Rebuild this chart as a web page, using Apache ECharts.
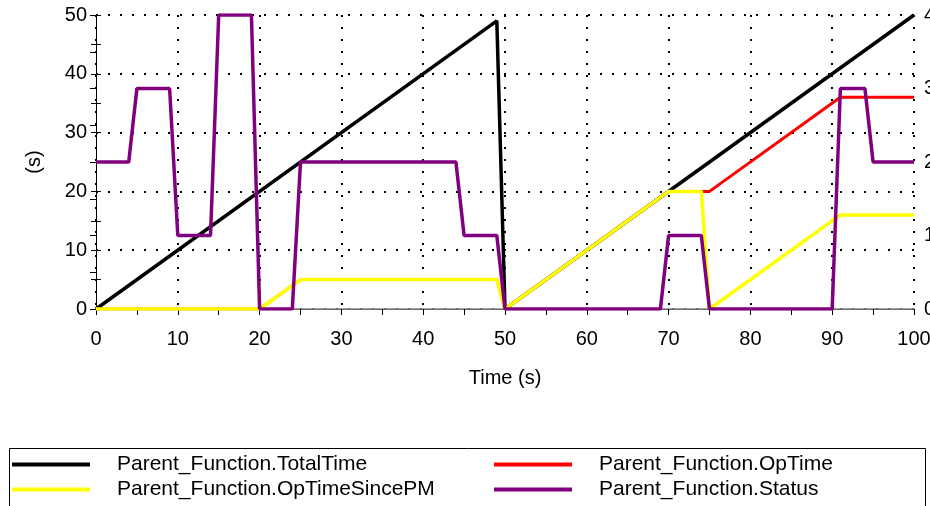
<!DOCTYPE html>
<html>
<head>
<meta charset="utf-8">
<script src="https://cdn.jsdelivr.net/npm/echarts@6/dist/echarts.min.js"></script>
<style>
html,body{margin:0;padding:0;background:#fff;}
#chart{width:930px;height:506px;}
</style>
</head>
<body>
<div id="chart"></div>
<script>
// ---- data ----
var xTicks = [0, 10, 20, 30, 40, 50, 60, 70, 80, 90, 100];
var leftTicks = [0, 10, 20, 30, 40, 50];
var rightTicks = [0, 1, 2, 3, 4];

var totalTimeX = [0, 49, 50, 100];
var totalTimeY = [0, 49, 0, 50];

var opTimeX = [0, 20, 25, 49, 50, 70, 75, 91, 100];
var opTimeY = [0, 0, 5, 5, 0, 20, 20, 36, 36];

var opSincePMX = [0, 20, 25, 49, 50, 70, 74, 75, 91, 100];
var opSincePMY = [0, 0, 5, 5, 0, 20, 20, 0, 16, 16];

var statusX = [0, 4, 5, 9, 10, 14, 15, 19, 20, 24, 25, 44, 45, 49, 50, 69, 70, 74, 75, 90, 91, 94, 95, 100];
var statusY = [2, 2, 3, 3, 1, 1, 4, 4, 0, 0, 2, 2, 1, 1, 0, 0, 1, 1, 0, 0, 3, 3, 2, 2];

var names = ['Parent_Function.TotalTime', 'Parent_Function.OpTime', 'Parent_Function.OpTimeSincePM', 'Parent_Function.Status'];
var colors = ['#000000', '#ff0000', '#ffff00', '#800080'];

function pairs(xs, ys) { return xs.map(function (x, i) { return [x, ys[i]]; }); }

var FONT = "'Liberation Sans', Arial, sans-serif";
var dotted = { color: '#000', width: 2, type: [2, 10] };

var chart = echarts.init(document.getElementById('chart'), null, { renderer: 'canvas' });
var legendText = { fontSize: 21, lineHeight: 21, color: '#000', fontFamily: FONT, padding: [0, 0, 0, 22] };
var option = {
  animation: false,
  textStyle: { fontFamily: FONT },
  grid: { left: 96, right: 16, top: 15, bottom: 197, containLabel: false, outerBoundsMode: 'none' },
  xAxis: [{
    type: 'value', min: xTicks[0], max: xTicks[xTicks.length - 1], interval: 10,
    name: 'Time (s)', nameLocation: 'middle', nameGap: 59,
    nameTextStyle: { fontSize: 20, color: '#000', fontFamily: FONT },
    axisLine: { show: true, lineStyle: { color: '#000', width: 1 } },
    axisTick: { show: true, length: 6, lineStyle: { color: '#000' } },
    minorTick: { show: true, splitNumber: 2, length: 6, lineStyle: { color: '#000' } },
    axisLabel: { fontSize: 20, color: '#000', margin: 20, fontFamily: FONT },
    splitLine: { show: true, lineStyle: dotted }
  }, {
    type: 'value', position: 'top', min: 0, max: 100,
    axisLine: { show: true, lineStyle: { color: '#8a8a8a', width: 1.5 } },
    axisTick: { show: false }, axisLabel: { show: false }, splitLine: { show: false }
  }],
  yAxis: [{
    type: 'value', position: 'left', min: leftTicks[0], max: leftTicks[leftTicks.length - 1], interval: 10,
    name: '(s)', nameLocation: 'middle', nameGap: 52, nameRotate: 90,
    nameTextStyle: { fontSize: 20, color: '#000', fontFamily: FONT },
    axisLine: { show: true, lineStyle: { color: '#000', width: 1 } },
    axisTick: { show: true, length: 5, lineStyle: { color: '#000' } },
    minorTick: { show: true, splitNumber: 2, length: 5, lineStyle: { color: '#000' } },
    axisLabel: { fontSize: 20, color: '#000', margin: 9, fontFamily: FONT },
    splitLine: { show: true, lineStyle: dotted }
  }, {
    type: 'value', position: 'right', min: rightTicks[0], max: rightTicks[rightTicks.length - 1], interval: 1,
    axisLine: { show: true, lineStyle: { color: '#000', width: 1 } },
    axisTick: { show: true, inside: true, length: 6, lineStyle: { color: '#000' } },
    minorTick: { show: true, splitNumber: 2, length: 6, lineStyle: { color: '#000' } },
    axisLabel: { fontSize: 20, color: '#000', margin: 10, fontFamily: FONT },
    splitLine: { show: false }
  }, {
    type: 'value', position: 'left', min: 0, max: 50, interval: 10,
    axisLine: { show: false },
    axisTick: { show: true, inside: true, length: 5, lineStyle: { color: '#000' } },
    minorTick: { show: true, splitNumber: 2, length: 5, lineStyle: { color: '#000' } },
    axisLabel: { show: false }, splitLine: { show: false }
  }],
  legend: [{
    orient: 'vertical', left: 12, top: 454, padding: 0, itemWidth: 78, itemHeight: 4, itemGap: 4,
    icon: 'rect', selectedMode: false,
    data: [names[0], names[2]],
    textStyle: legendText
  }, {
    orient: 'vertical', left: 494, top: 454, padding: 0, itemWidth: 78, itemHeight: 4, itemGap: 4,
    icon: 'rect', selectedMode: false,
    data: [names[1], names[3]],
    textStyle: legendText
  }],
  graphic: [{
    type: 'rect', shape: { x: 9.5, y: 448.5, width: 916, height: 80 },
    style: { fill: 'none', stroke: '#000', lineWidth: 1 }, silent: true
  }],
  series: [
    { name: names[0], type: 'line', yAxisIndex: 0, data: pairs(totalTimeX, totalTimeY), showSymbol: false, symbol: 'none', color: colors[0], lineStyle: { width: 3.5, color: colors[0] } },
    { name: names[1], type: 'line', yAxisIndex: 0, data: pairs(opTimeX, opTimeY), showSymbol: false, symbol: 'none', color: colors[1], lineStyle: { width: 3, color: colors[1] } },
    { name: names[2], type: 'line', yAxisIndex: 0, data: pairs(opSincePMX, opSincePMY), showSymbol: false, symbol: 'none', color: colors[2], lineStyle: { width: 3.5, color: colors[2] } },
    { name: names[3], type: 'line', yAxisIndex: 1, data: pairs(statusX, statusY), showSymbol: false, symbol: 'none', color: colors[3], lineStyle: { width: 3.5, color: colors[3] } }
  ]
};
chart.setOption(option);
</script>
</body>
</html>
